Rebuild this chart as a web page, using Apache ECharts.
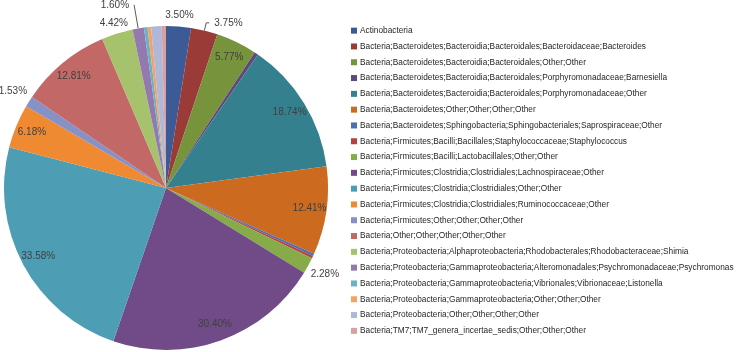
<!DOCTYPE html>
<html>
<head>
<meta charset="utf-8">
<script src="https://cdn.jsdelivr.net/npm/echarts@6/dist/echarts.min.js"></script>
<style>
  html, body {margin: 0; padding: 0; background: #fff;}
  #chart {width: 740px; height: 352px;}
</style>
</head>
<body>
<div id="chart"></div>
<script>
const taxa = [
    'Actinobacteria',
    'Bacteria;Bacteroidetes;Bacteroidia;Bacteroidales;Bacteroidaceae;Bacteroides',
    'Bacteria;Bacteroidetes;Bacteroidia;Bacteroidales;Other;Other',
    'Bacteria;Bacteroidetes;Bacteroidia;Bacteroidales;Porphyromonadaceae;Barnesiella',
    'Bacteria;Bacteroidetes;Bacteroidia;Bacteroidales;Porphyromonadaceae;Other',
    'Bacteria;Bacteroidetes;Other;Other;Other;Other',
    'Bacteria;Bacteroidetes;Sphingobacteria;Sphingobacteriales;Saprospiraceae;Other',
    'Bacteria;Firmicutes;Bacilli;Bacillales;Staphylococcaceae;Staphylococcus',
    'Bacteria;Firmicutes;Bacilli;Lactobacillales;Other;Other',
    'Bacteria;Firmicutes;Clostridia;Clostridiales;Lachnospiraceae;Other',
    'Bacteria;Firmicutes;Clostridia;Clostridiales;Other;Other',
    'Bacteria;Firmicutes;Clostridia;Clostridiales;Ruminococcaceae;Other',
    'Bacteria;Firmicutes;Other;Other;Other;Other',
    'Bacteria;Other;Other;Other;Other;Other',
    'Bacteria;Proteobacteria;Alphaproteobacteria;Rhodobacterales;Rhodobacteraceae;Shimia',
    'Bacteria;Proteobacteria;Gammaproteobacteria;Alteromonadales;Psychromonadaceae;Psychromonas',
    'Bacteria;Proteobacteria;Gammaproteobacteria;Vibrionales;Vibrionaceae;Listonella',
    'Bacteria;Proteobacteria;Gammaproteobacteria;Other;Other;Other',
    'Bacteria;Proteobacteria;Other;Other;Other;Other',
    'Bacteria;TM7;TM7_genera_incertae_sedis;Other;Other;Other'
]
const values = [3.50, 3.75, 5.77, 0.55, 18.74, 12.41, 0.35, 0.35, 2.28, 30.40,
    33.58, 6.18, 1.53, 12.81, 4.42, 1.60, 0.50, 0.50, 1.48, 0.60]
// where each value label goes: in = inside end, top/side = just outside, line = with leader line
const labelMode = ['top', 'line', 'in', '', 'in', 'in', '', '', 'side', 'in',
    'in', 'in', 'side', 'in', 'top', 'line', '', '', 'top', '']
const colors = ['#3c5a96', '#9b3b38', '#77933c', '#5f497a', '#34808f', '#cc6b1f',
    '#4a6fb5', '#b8413e', '#86ab48', '#704b88', '#4d9db5', '#ef8a33',
    '#8591c7', '#c26866', '#a6c26d', '#9379ae', '#6ab2c8', '#f5a262',
    '#b0b8da', '#d9a09f']

const font = "'Liberation Sans', Arial, sans-serif"
const center = [166, 188]

const labelFor = (mode) => values.map((v, i) => ({
    name: taxa[i],
    value: v,
    label: {show: labelMode[i] === mode}
}))

const labelSeries = (mode, radius) => ({
    type: 'pie',
    center: center,
    radius: radius,
    silent: true,
    legendHoverLink: false,
    itemStyle: {color: 'transparent', borderWidth: 0},
    emphasis: {disabled: true},
    label: {
        position: 'inside',
        color: '#404040',
        fontFamily: font,
        fontSize: 10,
        formatter: p => p.value.toFixed(2) + '%'
    },
    labelLine: {show: false},
    data: labelFor(mode)
})

const myChart = echarts.init(document.getElementById('chart'))
const option = {
    backgroundColor: '#fff',
    animation: false,
    color: colors,
    legend: {
        orient: 'vertical',
        left: 351,
        top: 25,
        padding: 0,
        icon: 'rect',
        itemWidth: 6,
        itemHeight: 6,
        itemGap: 4.5,
        textStyle: {color: '#262626', fontFamily: font, fontSize: 8.3, lineHeight: 11.3, padding: [0, 0, 0, -2]},
        data: taxa
    },
    series: [
        {
            type: 'pie',
            center: center,
            radius: 162,
            startAngle: 90,
            avoidLabelOverlap: false,
            itemStyle: {borderWidth: 0},
            emphasis: {scale: false},
            label: {
                position: 'outside',
                color: '#404040',
                fontFamily: font,
                fontSize: 10,
                formatter: p => p.value.toFixed(2) + '%'
            },
            labelLine: {lineStyle: {color: '#595959', width: 1}, length: 8, length2: 3},
            data: values.map((v, i) => ({
                name: taxa[i],
                value: v,
                label: {show: labelMode[i] === 'line'},
                labelLine: {show: labelMode[i] === 'line', length: i === 15 ? 24 : 8, length2: i === 15 ? 0 : 3}
            }))
        },
        labelSeries('in', [122, 162]),
        labelSeries('top', [162, 178]),
        labelSeries('side', [170, 186])
    ]
}
myChart.setOption(option)
</script>
</body>
</html>
